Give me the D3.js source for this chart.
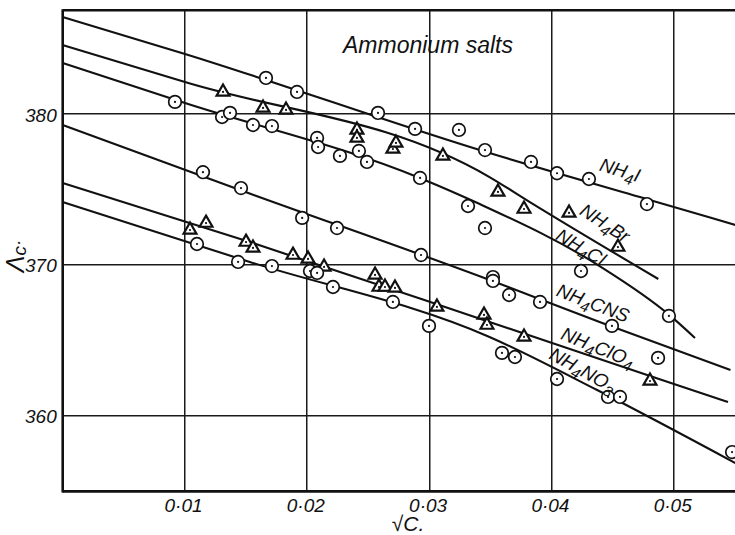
<!DOCTYPE html>
<html>
<head>
<meta charset="utf-8">
<script src="https://cdn.jsdelivr.net/npm/d3@7"></script>
<style>
  body { margin: 0; background: #fff; }
  svg { display: block; }
  text { font-family: "Liberation Sans", Arial, sans-serif; font-style: italic; fill: #111; }
</style>
</head>
<body>
<svg></svg>
<script>
// axis ticks
const xTicks = [0.01, 0.02, 0.03, 0.04, 0.05];
const xTickLabels = ['0·01', '0·02', '0·03', '0·04', '0·05'];
const yTicks = [360, 370, 380];
const yTickLabels = ['360', '370', '380'];

// series (label split into text / subscript parts)
const seriesLabels = [
    ['NH', '4', 'I'],
    ['NH', '4', 'Br'],
    ['NH', '4', 'Cl'],
    ['NH', '4', 'CNS'],
    ['NH', '4', 'ClO', '4'],
    ['NH', '4', 'NO', '3']
];
const seriesMarker = ['circle', 'triangle', 'circle', 'circle', 'triangle', 'circle'];

// drawn curves  [sqrt(c), Lambda]
const curveI = [[0, 386.45], [0.01, 384.0], [0.0349, 377.43], [0.048, 374.32], [0.055, 372.66]];
const curveBr = [[0, 384.59], [0.01, 382.14], [0.0349, 375.84], [0.0382, 374.18], [0.0487, 369.08]];
const curveCl = [[0, 383.40], [0.01, 380.75], [0.0292, 375.78], [0.0341, 374.05], [0.0439, 369.94], [0.0496, 366.70], [0.0517, 365.17]];
const curveCNS = [[0, 379.29], [0.0145, 374.98], [0.0349, 369.02], [0.0439, 366.23], [0.0546, 363.05]];
const curveClO4 = [[0, 375.45], [0.0153, 371.53], [0.0349, 366.23], [0.049, 362.39], [0.0544, 360.93]];
const curveNO3 = [[0, 374.18], [0.0153, 370.21], [0.0349, 365.24], [0.0437, 361.72], [0.055, 356.88]];

// measured points
const pointsI = [[0.01662, 382.41], [0.01916, 381.48], [0.02578, 380.09], [0.02881, 379.03], [0.0324, 378.96],
    [0.03453, 377.63], [0.03829, 376.84], [0.04042, 376.09], [0.04303, 375.71], [0.04777, 374.05]];
const pointsBr = [[0.01311, 381.48], [0.01638, 380.42], [0.01826, 380.29], [0.02406, 378.96], [0.02406, 378.43],
    [0.027, 377.70], [0.02725, 378.10], [0.03109, 377.24], [0.03559, 374.85], [0.03772, 373.72],
    [0.0414, 373.46], [0.0454, 371.20]];
const pointsCl = [[0.00918, 380.82], [0.01303, 379.82], [0.01368, 380.09], [0.01556, 379.29], [0.01711, 379.22],
    [0.0208, 378.43], [0.02088, 377.83], [0.02267, 377.24], [0.02422, 377.57], [0.02488, 376.84],
    [0.02922, 375.78], [0.03314, 373.92], [0.03453, 372.46], [0.04238, 369.61], [0.04957, 366.63]];
const pointsCNS = [[0.01147, 376.16], [0.01458, 375.11], [0.01958, 373.13], [0.02243, 372.46], [0.0293, 370.67],
    [0.03518, 369.21], [0.03518, 368.95], [0.0365, 368.02], [0.03903, 367.56], [0.04491, 365.97], [0.04868, 363.85]];
const pointsClO4 = [[0.01041, 372.33], [0.01172, 372.79], [0.01499, 371.53], [0.01556, 371.14], [0.01883, 370.67],
    [0.02006, 370.41], [0.02137, 369.88], [0.02554, 369.35], [0.02586, 368.55], [0.02635, 368.55],
    [0.02717, 368.49], [0.0306, 367.23], [0.03445, 366.70], [0.03469, 366.03], [0.03772, 365.24], [0.04802, 362.32]];
const pointsNO3 = [[0.01098, 371.40], [0.01434, 370.21], [0.01711, 369.94], [0.02022, 369.61], [0.0208, 369.48],
    [0.0221, 368.55], [0.027, 367.56], [0.02995, 365.97], [0.03592, 364.18], [0.03698, 363.91],
    [0.04042, 362.45], [0.04459, 361.26], [0.04557, 361.26], [0.05473, 357.61]];

const curves = [curveI, curveBr, curveCl, curveCNS, curveClO4, curveNO3];
const points = [pointsI, pointsBr, pointsCl, pointsCNS, pointsClO4, pointsNO3];

// where the curve labels sit (data coords) and their tilt
const labelPlacement = [
    {x: 0.04557, y: 376.31, angle: 17},
    {x: 0.04434, y: 372.79, angle: 33},
    {x: 0.04238, y: 371.20, angle: 31},
    {x: 0.04336, y: 367.49, angle: 21},
    {x: 0.04377, y: 364.57, angle: 22},
    {x: 0.04254, y: 363.05, angle: 29}
];

const [width, height] = [735, 535];
const plot = {left: 62.7, top: 10.2, bottom: 491.4, right: 735.35};

const svg = d3.select('svg')
    .attr('width', width)
    .attr('height', height);

svg.append('rect').attr('width', width).attr('height', height).attr('fill', '#fff');

const x = d3.scaleLinear().domain([0, 0.055]).range([plot.left, plot.right]);
const y = d3.scaleLinear().domain([355, 386.9]).range([plot.bottom, plot.top]);

// grid (drawn as thin rects so they survive rasterising)
const grid = svg.append('g').attr('fill', '#1a1a1a');
grid.selectAll('rect.gx')
    .data(xTicks)
    .enter()
    .append('rect')
    .attr('class', 'gx')
    .attr('x', d => Math.round(x(d)) - 1)
    .attr('width', 1.5)
    .attr('y', plot.top)
    .attr('height', plot.bottom - plot.top);
grid.selectAll('rect.gy')
    .data(yTicks)
    .enter()
    .append('rect')
    .attr('class', 'gy')
    .attr('x', plot.left)
    .attr('width', width - plot.left)
    .attr('y', d => Math.round(y(d)) - 1)
    .attr('height', 1.5);

// tick labels
const xAxis = svg.append('g')
    .attr('transform', `translate(0,${plot.bottom})`)
    .call(d3.axisBottom(x)
        .tickValues(xTicks)
        .tickFormat((d, i) => xTickLabels[i])
        .tickSize(0)
        .tickPadding(7));
xAxis.select('.domain').remove();
xAxis.attr('font-family', null).attr('font-size', null);
xAxis.selectAll('text').style('font-size', '19px').attr('dx', '-2');

const yAxis = svg.append('g')
    .attr('transform', `translate(${plot.left},0)`)
    .call(d3.axisLeft(y)
        .tickValues(yTicks)
        .tickFormat((d, i) => yTickLabels[i])
        .tickSize(0)
        .tickPadding(6));
yAxis.select('.domain').remove();
yAxis.attr('font-family', null).attr('font-size', null);
yAxis.selectAll('text').style('font-size', '19px').attr('dy', '0.36em');

// frame
const frame = svg.append('g').attr('stroke', '#111').attr('stroke-width', 2.6).attr('fill', 'none');
frame.append('line').attr('x1', plot.left).attr('x2', plot.left).attr('y1', plot.top - 1).attr('y2', plot.bottom + 1);
frame.append('line').attr('x1', plot.left).attr('x2', width).attr('y1', plot.top).attr('y2', plot.top);
frame.append('line').attr('x1', plot.left).attr('x2', width).attr('y1', plot.bottom).attr('y2', plot.bottom);

// curves
const line = d3.line()
    .x(d => x(d[0]))
    .y(d => y(d[1]))
    .curve(d3.curveMonotoneX);

svg.append('g')
    .selectAll('path')
    .data(curves)
    .enter()
    .append('path')
    .attr('d', line)
    .attr('fill', 'none')
    .attr('stroke', '#111')
    .attr('stroke-width', 2.1);

// markers
const tri = d3.symbol().type(d3.symbolTriangle).size(72);
points.forEach((pts, i) => {
    const g = svg.append('g');
    const m = g.selectAll('g')
        .data(pts)
        .enter()
        .append('g')
        .attr('transform', d => `translate(${x(d[0])},${y(d[1])})`);
    if (seriesMarker[i] === 'circle') {
        m.append('circle').attr('r', 6.3).attr('fill', '#fff').attr('stroke', '#111').attr('stroke-width', 1.7);
    } else {
        m.append('path').attr('d', tri).attr('fill', '#fff').attr('stroke', '#111').attr('stroke-width', 2.2);
    }
    m.append('circle').attr('r', 1.1).attr('fill', '#111');
});

// curve labels
seriesLabels.forEach((parts, i) => {
    const p = labelPlacement[i];
    const t = svg.append('text')
        .attr('text-anchor', 'middle')
        .attr('transform', `translate(${x(p.x)},${y(p.y)}) rotate(${p.angle})`)
        .attr('dy', '0.35em')
        .style('font-size', '19px');
    parts.forEach((s, k) => {
        const sub = k % 2 === 1;
        t.append('tspan')
            .attr('dy', sub ? 5 : (k > 0 ? -5 : null))
            .style('font-size', sub ? '15px' : '19px')
            .text(s);
    });
});

// title and axis names
svg.append('text')
    .attr('x', 343).attr('y', 53)
    .style('font-size', '23px')
    .text('Ammonium salts');

const yTitle = svg.append('text')
    .attr('text-anchor', 'middle')
    .attr('transform', 'translate(24,256) rotate(-90)');
yTitle.append('tspan').style('font-size', '25px').text('Λ');
yTitle.append('tspan').style('font-size', '19px').attr('dy', 2).text('c');
yTitle.append('tspan').style('font-size', '19px').attr('dy', -2).text('·');

svg.append('text')
    .attr('x', 408).attr('y', 531)
    .attr('text-anchor', 'middle')
    .style('font-size', '21px')
    .text('√C.');
</script>
</body>
</html>
